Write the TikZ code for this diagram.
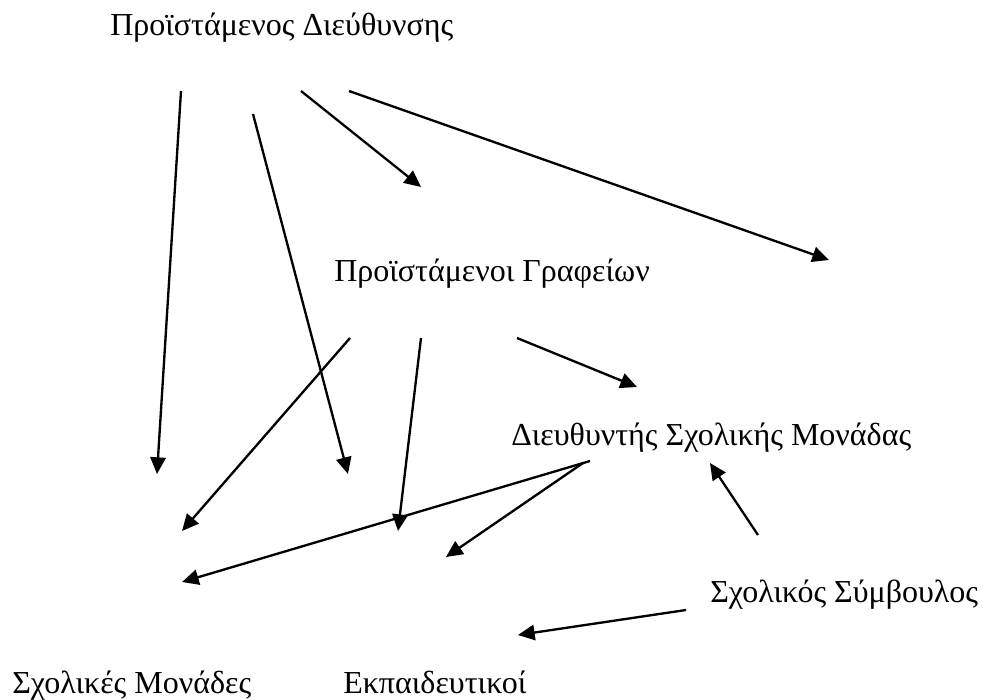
\documentclass[tikz,border=0pt]{standalone}
\usepackage{fontspec}
\setmainfont{Liberation Serif}
\usetikzlibrary{arrows.meta}
\tikzset{
  lbl/.style={anchor=base west, inner sep=0pt, font=\fontsize{24}{28}\selectfont},
  arr/.style={line width=1.75pt, -{Triangle[length=12.5pt,width=11.5pt]}}
}
\begin{document}
\begin{tikzpicture}[x=0.75pt,y=-0.75pt]
\useasboundingbox (0,0) rectangle (983,700);
\node[lbl] (pd) at (110,35) {Προϊστάμενος Διεύθυνσης};
\node[lbl] (pg) at (334,281) {Προϊστάμενοι Γραφείων};
\node[lbl] (ds) at (511,445) {Διευθυντής Σχολικής Μονάδας};
\node[lbl] (ss) at (710,602) {Σχολικός Σύμβουλος};
\node[lbl] (sm) at (12,693) {Σχολικές Μονάδες};
\node[lbl] (ek) at (343,693) {Εκπαιδευτικοί};
% arrow endpoints
\coordinate (a1s) at (181,91);  \coordinate (a1e) at (157,474);
\coordinate (a2s) at (253,114); \coordinate (a2e) at (348,474);
\coordinate (a3s) at (301,91);  \coordinate (a3e) at (421,187);
\coordinate (a4s) at (349,91);  \coordinate (a4e) at (829,260);
\coordinate (a5s) at (350,338); \coordinate (a5e) at (182,531);
\coordinate (a6s) at (421,338); \coordinate (a6e) at (398,531);
\coordinate (a7s) at (517,338); \coordinate (a7e) at (637,387);
\coordinate (a8s) at (590,461); \coordinate (a8e) at (182,582);
\coordinate (a9s) at (583,463); \coordinate (a9e) at (446,557);
\coordinate (a10s) at (758,535); \coordinate (a10e) at (710,463);
\coordinate (a11s) at (686,610); \coordinate (a11e) at (518,635);
\draw[arr] (a1s) -- (a1e);
\draw[arr] (a2s) -- (a2e);
\draw[arr] (a3s) -- (a3e);
\draw[arr] (a4s) -- (a4e);
\draw[arr] (a5s) -- (a5e);
\draw[arr] (a6s) -- (a6e);
\draw[arr] (a7s) -- (a7e);
\draw[arr] (a8s) -- (a8e);
\draw[arr] (a9s) -- (a9e);
\draw[arr] (a10s) -- (a10e);
\draw[arr] (a11s) -- (a11e);
\end{tikzpicture}
\end{document}
